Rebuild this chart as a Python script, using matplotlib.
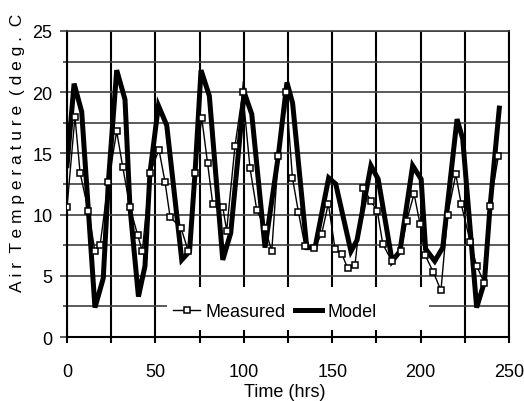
import matplotlib
matplotlib.use('Agg')
import matplotlib.pyplot as plt
from matplotlib.ticker import MultipleLocator
from matplotlib.patches import Rectangle

plt.rcParams['font.family'] = ['Liberation Sans', 'DejaVu Sans']

# measured air temperature
t_measured = [0, 4.5, 7.4, 12.1, 15.8, 18.7, 23.4, 28.1, 31.5, 35.6, 40.0, 42.6,
              46.9, 52.0, 55.4, 58.3, 64.5, 68.6, 72.4, 76.2, 79.5, 82.4, 88.1, 90.3,
              95.0, 99.4, 103.5, 107.3, 112.0, 115.8, 119.5, 123.9, 127.5, 130.9, 134.6, 139.9,
              144.0, 147.8, 151.6, 155.4, 158.8, 162.9, 167.6, 171.8, 175.5, 178.6, 183.7, 188.8,
              192.1, 196.3, 199.7, 202.5, 207.2, 211.5, 215.3, 219.9, 222.9, 228.0, 231.7, 236.1,
              239.3, 244.0]
temp_measured = [10.6, 18.0, 13.4, 10.3, 7.0, 7.5, 12.7, 16.8, 13.9, 10.6, 8.3, 7.0,
                 13.4, 15.3, 12.7, 9.8, 8.9, 7.0, 13.4, 17.9, 14.2, 10.9, 10.6, 8.7,
                 15.6, 20.0, 13.8, 10.4, 8.9, 7.0, 14.8, 20.0, 13.0, 10.2, 7.4, 7.3,
                 8.4, 10.9, 7.2, 6.8, 5.6, 5.9, 12.2, 11.1, 10.3, 7.6, 6.2, 7.0,
                 9.5, 11.7, 9.2, 6.7, 5.3, 3.8, 10.0, 13.3, 10.9, 7.8, 5.8, 4.4,
                 10.7, 14.8]

# model
t_model = [0, 4.0, 8.3, 12.1, 15.8, 20.5, 23.4, 28.1, 32.8, 35.6, 40.4,
           44.1, 46.9, 51.7, 56.4, 64.9, 69.3, 72.4, 75.8, 80.5, 88.1,
           92.6, 100.2, 104.5, 112.0, 119.5, 124.4, 127.6, 135.6, 140.3, 148.0,
           152.0, 160.6, 164.0, 171.9, 176.0, 183.9, 188.3, 195.5, 200.3, 202.8,
           208.0, 212.5, 220.6, 223.8, 231.7, 236.1, 239.3, 244.5]
temp_model = [14.0, 20.7, 18.4, 10.3, 2.4, 4.8, 12.7, 21.8, 19.4, 10.6, 3.3,
              5.8, 13.4, 18.9, 17.3, 6.3, 7.0, 13.4, 21.8, 19.7, 6.3,
              8.5, 20.0, 18.2, 7.3, 14.8, 20.8, 19.1, 7.3, 7.3, 13.0,
              12.5, 7.0, 7.9, 14.0, 12.9, 6.2, 7.0, 14.0, 12.9, 7.2,
              6.2, 7.3, 17.8, 16.2, 2.4, 4.5, 10.7, 18.7]

fs = 13

fig = plt.figure(figsize=(5.24, 4.02), dpi=100)
ax = fig.add_axes([0.1279, 0.1592, 0.8435, 0.7612])
ax.set_axisbelow(True)

model_line, = ax.plot(t_model, temp_model, color='black', lw=3.6,
                      solid_joinstyle='miter', zorder=3)
meas_line, = ax.plot(t_measured, temp_measured, color='black', lw=1.0,
                     marker='s', ms=4.5, mfc='white', mec='black', mew=1.1, zorder=4)

ax.set_xlim(0, 250)
ax.set_ylim(0, 25)
ax.xaxis.set_major_locator(MultipleLocator(50))
ax.xaxis.set_minor_locator(MultipleLocator(25))
ax.yaxis.set_major_locator(MultipleLocator(5))
ax.yaxis.set_minor_locator(MultipleLocator(2.5))

ax.grid(which='both', axis='x', color='black', lw=1.5)
ax.grid(which='both', axis='y', color='#404040', lw=1.2)

ax.tick_params(axis='x', which='both', direction='out', length=4, width=1.5,
               color='black', pad=14.5, labelsize=fs)
ax.tick_params(axis='y', which='major', direction='out', length=5, width=1.2,
               color='#404040', pad=5.5, labelsize=fs)
ax.tick_params(axis='y', which='minor', direction='out', length=3, width=1.2,
               color='#404040')

ax.spines['left'].set_linewidth(1.5)
ax.spines['bottom'].set_linewidth(1.5)
ax.spines['top'].set_color('#404040')
ax.spines['top'].set_linewidth(1.2)
ax.spines['right'].set_linewidth(1.5)

# legend background (hides the grid behind it)
ax.add_patch(Rectangle((0.226, 0.023), 0.593, 0.14, transform=ax.transAxes,
                       facecolor='white', edgecolor='none', zorder=2))
ax.legend([meas_line, model_line], ['Measured', 'Model'], loc='center left',
          bbox_to_anchor=(0.24, 0.082), ncol=2, frameon=False, fontsize=fs,
          handlelength=1.5, handletextpad=0.3, columnspacing=0.5,
          borderpad=0, borderaxespad=0)

fig.text(17.5 / 524, 1 - 152.5 / 402, 'A i r  T e m p e r a t u r e  ( d e g .  C',
         rotation=90, ha='center', va='center', fontsize=12.5)
fig.text(285 / 524, 0.002, 'Time (hrs)', ha='center', va='bottom', fontsize=fs)

fig.savefig('out.png', dpi=100)
